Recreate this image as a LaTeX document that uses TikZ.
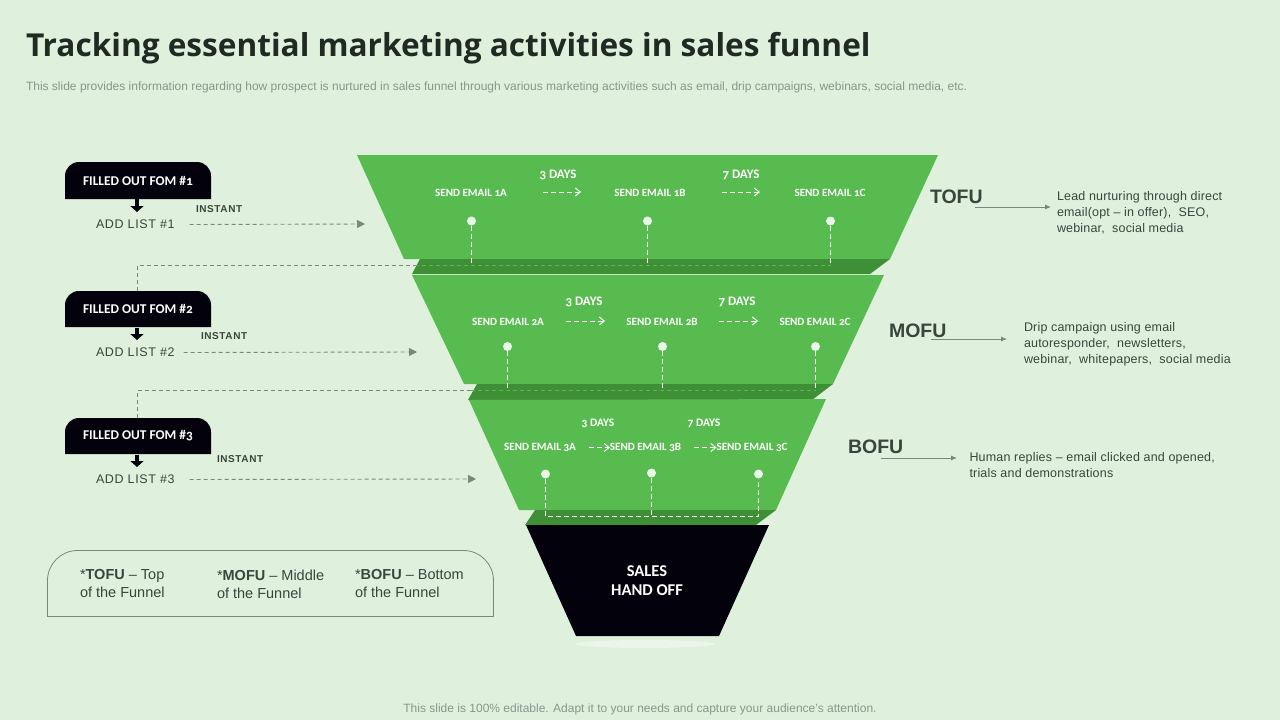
\documentclass[tikz,border=0pt]{standalone}
\usepackage{fontspec}
\setmainfont{Liberation Sans}
\newfontfamily\carlito[Numbers=OldStyle]{Carlito}
\newfontfamily\titlefont{Open Sans}
\usetikzlibrary{arrows.meta}
\definecolor{pagebg}{HTML}{DFF1DD}
\definecolor{funnelgreen}{HTML}{57BB4F}
\definecolor{funneldark}{HTML}{3F8F37}
\definecolor{funnelblack}{HTML}{03020C}
\definecolor{titleink}{HTML}{1F2A22}
\definecolor{inktext}{HTML}{3A453B}
\definecolor{greytext}{HTML}{8B958A}
\definecolor{greyline}{HTML}{7C867B}
\definecolor{dotwhite}{HTML}{EAF6E8}

\begin{document}
\begin{tikzpicture}[x=1pt, y=-1pt,
    every node/.style={inner sep=0pt, outer sep=0pt},
    tabbox/.style={minimum width=146pt, minimum height=37pt},
    tablabel/.style={text=white, font=\carlito\bfseries\fontsize{13.4}{15}\selectfont},
    listlabel/.style={anchor=west, text=inktext, font=\fontsize{12.5}{15}\selectfont\addfontfeatures{LetterSpace=5}},
    instantlabel/.style={anchor=west, text=inktext, font=\bfseries\fontsize{10}{12}\selectfont\addfontfeatures{LetterSpace=6}},
    emaillabel/.style={text=white, font=\carlito\bfseries\fontsize{11.1}{13}\selectfont},
    dayslabel/.style={text=white, font=\carlito\bfseries\fontsize{13}{15}\selectfont},
    smalldays/.style={text=white, font=\carlito\bfseries\fontsize{11.5}{13}\selectfont},
    stagelabel/.style={anchor=west, text=inktext, font=\bfseries\fontsize{19.5}{22}\selectfont},
    stagetext/.style={anchor=west, align=left, text=inktext, font=\fontsize{12.5}{16}\selectfont\addfontfeatures{LetterSpace=1.5}},
    legendtext/.style={anchor=west, align=left, text=inktext, font=\fontsize{14.5}{18}\selectfont},
    dot/.style={circle, fill=dotwhite, minimum size=9pt},
    downarrow/.style={line width=4.5pt, funnelblack, -{Triangle[width=13pt,length=6pt]}},
    greyarrow/.style={dash pattern=on 4pt off 3pt, greyline, line width=0.9pt, -{Triangle[length=8pt,width=8pt]}},
    greydash/.style={dash pattern=on 4pt off 3pt, greyline, line width=0.9pt},
    daysarrow/.style={dash pattern=on 5pt off 3pt, white, line width=0.9pt, -{Straight Barb[length=5pt,width=8pt]}},
    dropline/.style={dash pattern=on 5pt off 3pt, white, line width=0.9pt},
    faintline/.style={dash pattern=on 4pt off 3pt, funnelgreen, line width=0.5pt},
    stagearrow/.style={greyline, line width=0.9pt, -{Latex[length=6pt,width=5pt]}}]

  % Page
  \fill[pagebg] (0,0) rectangle (1280,720);
  \useasboundingbox (0,0) rectangle (1280,720);

  %%%%%%%%%%%%%%%%%%%%%%%%%%%%%%
  % Title lines                %
  %%%%%%%%%%%%%%%%%%%%%%%%%%%%%%
  \node[anchor=west, text=titleink, font=\titlefont\bfseries\fontsize{31.6}{36}\selectfont] (title) at (26,48)
        {Tracking essential marketing activities in sales funnel};
  \node[anchor=west, text=greytext, font=\fontsize{12}{14}\selectfont] (subtitle) at (26,87.5)
        {This slide provides information regarding how prospect is nurtured in sales funnel through various marketing activities such as email, drip campaigns, webinars, social media, etc.};
  \node[text=greytext, font=\fontsize{12}{14}\selectfont] (footer) at (640,709.5)
        {This slide is 100\% editable. Adapt it to your needs and capture your audience's attention.};

  %%%%%%%%%%%%%%%%%%%%%%%%%%%%%%
  % Funnel layers              %
  %%%%%%%%%%%%%%%%%%%%%%%%%%%%%%
  \fill[dotwhite] (645,644) ellipse (70 and 4);
  % Top
  \fill[funnelgreen] (357,155) -- (938,155) -- (890,259) -- (404,259) -- cycle;
  \fill[funneldark] (420,259) -- (890,259) -- (870,274) -- (412,274) -- cycle;
  % Middle
  \fill[funnelgreen] (412,275) -- (884,275) -- (833,384) -- (464,384) -- cycle;
  \fill[funneldark] (477,384) -- (833,384) -- (812,400) -- (468,400) -- cycle;
  % Bottom
  \fill[funnelgreen] (469,400) -- (826,399) -- (776,510) -- (519,510) -- cycle;
  \fill[funneldark] (535,510) -- (776,510) -- (756,525) -- (525,525) -- cycle;
  % Hand off
  \fill[funnelblack] (526,525) -- (769,525) -- (719,636) -- (576,636) -- cycle;
  \node[align=center, text=white, font=\carlito\bfseries\fontsize{16.5}{19}\selectfont] (handoff) at (647,581)
        {SALES\\HAND OFF};

  %%%%%%%%%%%%%%%%%%%%%%%%%%%%%%
  % Top layer content          %
  %%%%%%%%%%%%%%%%%%%%%%%%%%%%%%
  \node[emaillabel] (mailOneA) at (471,192.5) {SEND EMAIL 1A};
  \node[emaillabel] (mailOneB) at (650,192.5) {SEND EMAIL 1B};
  \node[emaillabel] (mailOneC) at (830,192.5) {SEND EMAIL 1C};
  \node[dayslabel] (daysOneA) at (558,174.5) {3 DAYS};
  \node[dayslabel] (daysOneB) at (741,174.5) {7 DAYS};
  \coordinate (gapOneA) at (543,192);
  \coordinate (gapOneB) at (581,192);
  \coordinate (gapOneC) at (722,192);
  \coordinate (gapOneD) at (760,192);
  \draw[daysarrow] (gapOneA) -- (gapOneB);
  \draw[daysarrow] (gapOneC) -- (gapOneD);
  \node[dot] (dotOneA) at (471.5,221) {};
  \node[dot] (dotOneB) at (647.5,221) {};
  \node[dot] (dotOneC) at (830.5,221) {};
  \coordinate (elbowOne) at (415,265);
  \draw[faintline] (elbowOne) -- (dotOneC |- elbowOne);
  \draw[dropline] (dotOneA) -- (dotOneA |- elbowOne);
  \draw[dropline] (dotOneB) -- (dotOneB |- elbowOne);
  \draw[dropline] (dotOneC) -- (dotOneC |- elbowOne);

  %%%%%%%%%%%%%%%%%%%%%%%%%%%%%%
  % Middle layer content       %
  %%%%%%%%%%%%%%%%%%%%%%%%%%%%%%
  \node[emaillabel] (mailTwoA) at (508,321.5) {SEND EMAIL 2A};
  \node[emaillabel] (mailTwoB) at (662,321.5) {SEND EMAIL 2B};
  \node[emaillabel] (mailTwoC) at (815,321.5) {SEND EMAIL 2C};
  \node[dayslabel] (daysTwoA) at (584,301.5) {3 DAYS};
  \node[dayslabel] (daysTwoB) at (737,301.5) {7 DAYS};
  \coordinate (gapTwoA) at (566,321);
  \coordinate (gapTwoB) at (605,321);
  \coordinate (gapTwoC) at (719,321);
  \coordinate (gapTwoD) at (758,321);
  \draw[daysarrow] (gapTwoA) -- (gapTwoB);
  \draw[daysarrow] (gapTwoC) -- (gapTwoD);
  \node[dot] (dotTwoA) at (507.5,346.5) {};
  \node[dot] (dotTwoB) at (662.5,346.5) {};
  \node[dot] (dotTwoC) at (815.5,346.5) {};
  \coordinate (elbowTwo) at (471,390);
  \draw[faintline] (elbowTwo) -- (dotTwoC |- elbowTwo);
  \draw[dropline] (dotTwoA) -- (dotTwoA |- elbowTwo);
  \draw[dropline] (dotTwoB) -- (dotTwoB |- elbowTwo);
  \draw[dropline] (dotTwoC) -- (dotTwoC |- elbowTwo);

  %%%%%%%%%%%%%%%%%%%%%%%%%%%%%%
  % Bottom layer content       %
  %%%%%%%%%%%%%%%%%%%%%%%%%%%%%%
  \node[emaillabel] (mailThreeA) at (540,447.5) {SEND EMAIL 3A};
  \node[emaillabel] (mailThreeB) at (645.5,447.5) {SEND EMAIL 3B};
  \node[emaillabel] (mailThreeC) at (752,447.5) {SEND EMAIL 3C};
  \node[smalldays] (daysThreeA) at (598,423.5) {3 DAYS};
  \node[smalldays] (daysThreeB) at (704,423.5) {7 DAYS};
  \draw[daysarrow] (mailThreeA.east) ++(13,0) coordinate (gapThreeA) -- (mailThreeB.west);
  \draw[daysarrow] (mailThreeB.east) ++(13,0) coordinate (gapThreeB) -- (mailThreeC.west);
  \node[dot] (dotThreeA) at (545.5,474) {};
  \node[dot] (dotThreeB) at (651.5,473) {};
  \node[dot] (dotThreeC) at (758.5,474) {};
  \coordinate (floorThree) at (651.5,516);
  \draw[dropline] (dotThreeA) -- (dotThreeA |- floorThree) -- (dotThreeC |- floorThree) -- (dotThreeC);
  \draw[dropline] (dotThreeB) -- (floorThree);

  %%%%%%%%%%%%%%%%%%%%%%%%%%%%%%
  % Form tabs and list labels  %
  %%%%%%%%%%%%%%%%%%%%%%%%%%%%%%
  \fill[funnelblack] (65,199) [rounded corners=14pt] -- (65,162) -- (211,162) [sharp corners] -- (211,199) -- cycle;
  \node[tabbox] (tabOne) at (138,180.5) {};
  \node[tablabel] (tabOneText) at (138,181) {FILLED OUT FOM \#1};
  \node[listlabel] (listOne) at (96,224.5) {ADD LIST \#1};
  \node[instantlabel] (instantOne) at (196,209.5) {INSTANT};
  \coordinate (tipOne) at (137,212);
  \draw[downarrow] (tabOne.south -| tipOne) -- (tipOne);
  \coordinate (endOne) at (365,224);
  \draw[greyarrow] (listOne.east) ++(15,0) -- (endOne);

  \fill[funnelblack] (65,327) [rounded corners=14pt] -- (65,291) -- (211,291) [sharp corners] -- (211,327) -- cycle;
  \node[tabbox] (tabTwo) at (138,309) {};
  \node[tablabel] (tabTwoText) at (138,309) {FILLED OUT FOM \#2};
  \node[listlabel] (listTwo) at (96,352.5) {ADD LIST \#2};
  \node[instantlabel] (instantTwo) at (201,336.5) {INSTANT};
  \coordinate (tipTwo) at (137,340);
  \draw[downarrow] (tabTwo.south -| tipTwo) -- (tipTwo);
  \coordinate (endTwo) at (417,352);
  \draw[greyarrow] (listTwo.east) ++(9,0) -- (endTwo);
  \draw[greydash] (tabTwo.north -| tipTwo) |- (elbowOne);

  \fill[funnelblack] (65,454) [rounded corners=14pt] -- (65,418) -- (211,418) [sharp corners] -- (211,454) -- cycle;
  \node[tabbox] (tabThree) at (138,436) {};
  \node[tablabel] (tabThreeText) at (138,436) {FILLED OUT FOM \#3};
  \node[listlabel] (listThree) at (96,479.5) {ADD LIST \#3};
  \node[instantlabel] (instantThree) at (217,459.5) {INSTANT};
  \coordinate (tipThree) at (137,467);
  \draw[downarrow] (tabThree.south -| tipThree) -- (tipThree);
  \coordinate (endThree) at (476,479);
  \draw[greyarrow] (listThree.east) ++(15,0) -- (endThree);
  \draw[greydash] (tabThree.north -| tipThree) |- (elbowTwo);

  %%%%%%%%%%%%%%%%%%%%%%%%%%%%%%
  % Stage labels on the right  %
  %%%%%%%%%%%%%%%%%%%%%%%%%%%%%%
  \node[stagelabel] (tofuLabel) at (930,196.5) {TOFU};
  \node[stagetext] (tofuText) at (1057,213) {Lead nurturing through direct\\email(opt -- in offer),\ \ SEO,\\webinar,\ \ social media};
  \coordinate (tofuStart) at (975,207);
  \draw[stagearrow] (tofuStart) -- ++(76,0);

  \node[stagelabel] (mofuLabel) at (889,330.5) {MOFU};
  \node[stagetext] (mofuText) at (1024,344) {Drip campaign using email\\autoresponder,\ \ newsletters,\\webinar,\ \ whitepapers,\ \ social media};
  \coordinate (mofuStart) at (931,339);
  \draw[stagearrow] (mofuStart) -- ++(76,0);

  \node[stagelabel] (bofuLabel) at (848,446.5) {BOFU};
  \node[stagetext] (bofuText) at (969.5,465) {Human replies -- email clicked and opened,\\trials and demonstrations};
  \coordinate (bofuStart) at (881,458);
  \draw[stagearrow] (bofuStart) -- ++(76,0);

  %%%%%%%%%%%%%%%%%%%%%%%%%%%%%%
  % Legend box                 %
  %%%%%%%%%%%%%%%%%%%%%%%%%%%%%%
  \draw[greyline, line width=0.8pt] (47.5,616.5) [rounded corners=30pt] -- (47.5,550.5) -- (493.5,550.5) [sharp corners] -- (493.5,616.5) -- cycle;
  \node[legendtext] (legendTofu) at (80,584) {*\textbf{TOFU} -- Top\\of the Funnel};
  \node[legendtext] (legendMofu) at (217,584) {*\textbf{MOFU} -- Middle\\of the Funnel};
  \node[legendtext] (legendBofu) at (355,584) {*\textbf{BOFU} -- Bottom\\of the Funnel};

\end{tikzpicture}
\end{document}
